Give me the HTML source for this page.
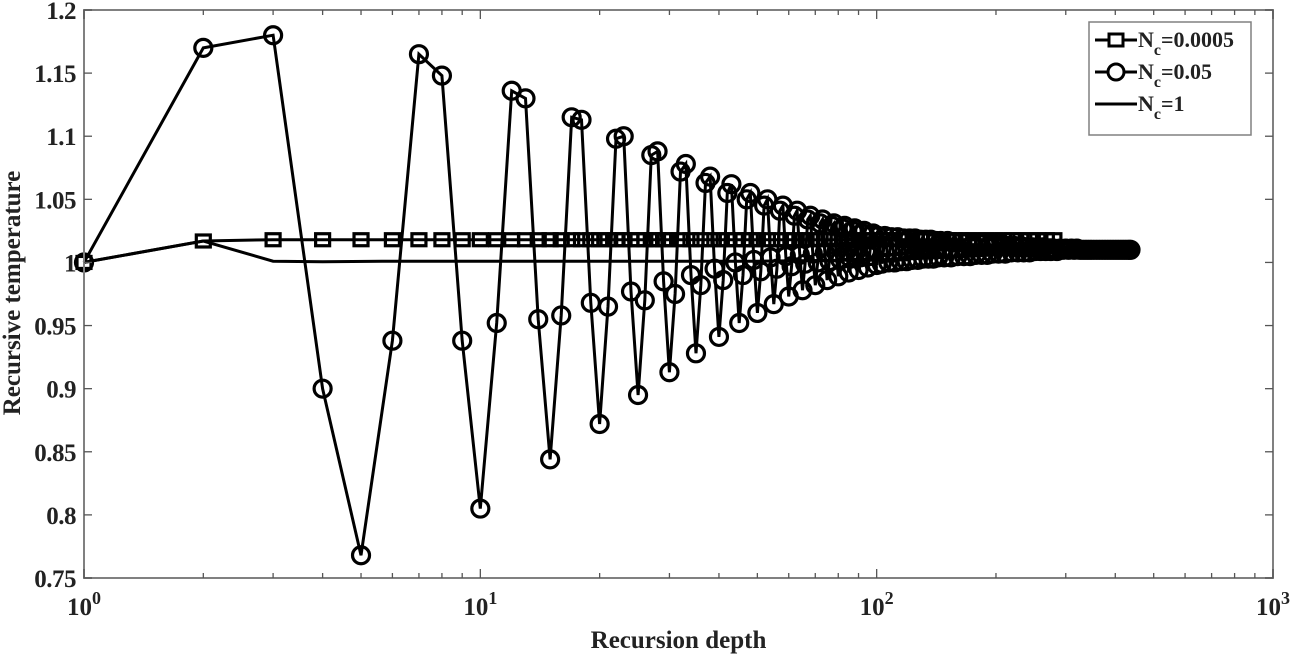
<!DOCTYPE html>
<html><head><meta charset="utf-8"><style>
html,body{margin:0;padding:0;background:#fff;}
svg text{font-family:"Liberation Serif",serif;font-weight:bold;fill:#222;}
</style></head><body>
<svg id="chart" width="1292" height="658" viewBox="0 0 1292 658" xmlns="http://www.w3.org/2000/svg">
<g id="grid"></g>
<g id="series"></g>
<g id="axes"></g>
<g id="legend"></g>
</svg>
<script>
// ---- data ----
const yTicks = [0.75,0.8,0.85,0.9,0.95,1,1.05,1.1,1.15,1.2];
const yTickLabels = ["0.75","0.8","0.85","0.9","0.95","1","1.05","1.1","1.15","1.2"];
const xDecades = [0,1,2,3];
// Nc = 0.05 (circles)
const circN = [];
const circV = [1.000,
1.170,1.180,0.900,0.768,0.938,1.165,1.148,0.938,0.805,0.952,
1.136,1.130,0.955,0.844,0.958,1.115,1.113,0.968,0.872,0.965,
1.098,1.100,0.977,0.895,0.970,1.085,1.088,0.985,0.913,0.975,
1.072,1.078,0.990,0.928,0.982,1.063,1.068,0.995,0.941,0.986,
1.055,1.062,1.000,0.952,0.990,1.050,1.055,1.002,0.960,0.993,
1.045,1.050,1.004,0.967,0.995,1.041,1.045,1.005,0.973,0.997,
1.037,1.041,1.006,0.978,0.999,1.034,1.037,1.007,0.982,1.000,
1.031,1.034,1.008,0.986,1.001,1.029,1.031,1.008,0.989,1.002,
1.027,1.029,1.009,0.992,1.003,1.025,1.027,1.009,0.994,1.004,
1.023,1.025,1.009,0.996,1.005,1.022,1.023,1.010,0.998];
for (let i=0;i<circV.length;i++) circN.push(i+1);
const circTailN = [101,103,105,107,109,111,113,115,117,119,121,123,125,127,129,131,133,135,137,139,141,143,145,148,151,154,157,160,163,166,169,172,175,178,181,184,187,190,193,196,199,203,207,211,215,219,223,227,231,235,239,243,247,251,255,259,263,267,271,275,280,285,290,295,300,305,310,315,320,325,330,335,340,345,350,356,362,368,374,380,386,392,398,404,410,416,422,428,434,437];
const circTailV = [1.021,0.999,1.021,1.000,1.020,1.000,1.020,1.001,1.019,1.001,1.019,1.002,1.019,1.002,1.018,1.003,1.018,1.003,1.018,1.003,1.017,1.004,1.017,1.004,1.017,1.004,1.016,1.005,1.016,1.005,1.016,1.005,1.015,1.006,1.015,1.006,1.015,1.006,1.014,1.007,1.014,1.007,1.014,1.007,1.013,1.008,1.013,1.008,1.013,1.008,1.012,1.008,1.012,1.009,1.012,1.009,1.012,1.009,1.011,1.009,1.011,1.009,1.011,1.010,1.011,1.010,1.011,1.010,1.011,1.010,1.010,1.010,1.010,1.010,1.010,1.010,1.010,1.010,1.010,1.010,1.010,1.010,1.010,1.010,1.010,1.010,1.010,1.010,1.010,1.010];
// Nc = 0.0005 (squares)
const sqN = [1,2,3,4,5,6,7,8,9,10,11,12,13,14,15,16,17,18,19,20,21,22,23,24,25,26,27,28,29,30,32,34,36,38,40,42,44,46,48,50,53,56,59,62,65,68,72,76,80,84,88,93,98,103,108,114,120,126,133,140,147,155,163,171,180,189,199,209,220,231,243,255,268,280];
const sqV = [1.000,1.017,1.018,1.018,1.018,1.018,1.018,1.018,1.018,1.018,1.018,1.018,1.018,1.018,1.018,1.018,1.018,1.018,1.018,1.018,1.018,1.018,1.018,1.018,1.018,1.018,1.018,1.018,1.018,1.018,1.018,1.018,1.018,1.018,1.018,1.018,1.018,1.018,1.018,1.018,1.018,1.018,1.018,1.018,1.018,1.018,1.018,1.018,1.018,1.018,1.018,1.018,1.018,1.018,1.018,1.018,1.018,1.018,1.018,1.018,1.018,1.018,1.018,1.018,1.018,1.018,1.018,1.018,1.018,1.018,1.018,1.018,1.018,1.018];
// Nc = 1 (line)
const lineN = [1,2,3,4,6,10,20,50,100,150,200,300,437];
const lineV = [1.000,1.017,1.001,1.0005,1.001,1.001,1.001,1.001,1.002,1.004,1.006,1.008,1.009];

// ---- scales ----
const X0=84, X1=1273, Y0=578, Y1=10;
const xs = n => X0 + (Math.log10(n)-0)/(3-0)*(X1-X0);
const ys = v => Y0 - (v-0.75)/(1.2-0.75)*(Y0-Y1);
const NS="http://www.w3.org/2000/svg";
function mk(tag, attrs, parent){const e=document.createElementNS(NS,tag);for(const k in attrs)e.setAttribute(k,attrs[k]);parent.appendChild(e);return e;}
const gS=document.getElementById('series'), gA=document.getElementById('axes'), gL=document.getElementById('legend');

// line Nc=1
let d=lineN.map((n,i)=>(i?'L':'M')+xs(n).toFixed(1)+','+ys(lineV[i]).toFixed(1)).join('');
let p=mk('path',{d:d,fill:'none',stroke:'#000','stroke-width':3},gS);



// squares Nc=0.0005
d=sqN.map((n,i)=>(i?'L':'M')+xs(n).toFixed(1)+','+ys(sqV[i]).toFixed(1)).join('');
p=mk('path',{d:d,fill:'none',stroke:'#000','stroke-width':3},gS);


sqN.forEach((n,i)=>{
  const r=mk('rect',{x:xs(n)-7,y:ys(sqV[i])-6,width:14,height:12,fill:'none',stroke:'#000','stroke-width':3.2},gS);
  
  
});

// circles Nc=0.05
const allN=circN.concat(circTailN), allV=circV.concat(circTailV);
d=allN.map((n,i)=>(i?'L':'M')+xs(n).toFixed(1)+','+ys(allV[i]).toFixed(1)).join('');
p=mk('path',{d:d,fill:'none',stroke:'#000','stroke-width':3},gS);


allN.forEach((n,i)=>{
  const c=mk('circle',{cx:xs(n),cy:ys(allV[i]),r:8.5,fill:'none',stroke:'#000','stroke-width':3.2},gS);
  
  
});

// axes box
const box=mk('rect',{x:X0,y:Y1,width:X1-X0,height:Y0-Y1,fill:'none',stroke:'#808080','stroke-width':2},gA);


// y ticks
yTicks.forEach((v,i)=>{
  const y=ys(v);
  mk('line',{x1:X0,y1:y,x2:X0+8,y2:y,stroke:'#555','stroke-width':1.3},gA);
  mk('line',{x1:X1,y1:y,x2:X1-8,y2:y,stroke:'#555','stroke-width':1.3},gA);
  const t=mk('text',{x:X0-8,y:y+9,'text-anchor':'end','font-size':25,'letter-spacing':'-0.5'},gA);
  t.textContent=yTickLabels[i];
  
  
});
// x ticks
xDecades.forEach(k=>{
  const x=xs(Math.pow(10,k));
  mk('line',{x1:x,y1:Y0,x2:x,y2:Y0-9,stroke:'#555','stroke-width':1.3},gA);
  mk('line',{x1:x,y1:Y1,x2:x,y2:Y1+9,stroke:'#555','stroke-width':1.3},gA);
  if(k<3){for(let m=2;m<10;m++){const xm=xs(m*Math.pow(10,k));
    mk('line',{x1:xm,y1:Y0,x2:xm,y2:Y0-5,stroke:'#555','stroke-width':1.3},gA);
    mk('line',{x1:xm,y1:Y1,x2:xm,y2:Y1+5,stroke:'#555','stroke-width':1.3},gA);}}
  const t=mk('text',{x:x-17,y:Y0+37,'font-size':25},gA);
  t.innerHTML='10<tspan dy="-11" font-size="18">'+k+'</tspan>';
  
  
});
let t=mk('text',{x:(X0+X1)/2,y:648,'text-anchor':'middle','font-size':25},gA);
t.textContent='Recursion depth';


t=mk('text',{x:0,y:0,'text-anchor':'middle','font-size':25,transform:'translate(20,293) rotate(-90)'},gA);
t.textContent='Recursive temperature';



// legend
const lb=mk('rect',{x:1089,y:22,width:162,height:113,fill:'#fff',stroke:'#808080','stroke-width':1.5},gL);


const legLabels=['=0.0005','=0.05','=1'];
const legY=[40,72,104];
legLabels.forEach((lab,i)=>{
  const y=legY[i];
  const g=mk('g',{},gL);
  
  
  mk('line',{x1:1095,y1:y,x2:1137,y2:y,stroke:'#000','stroke-width':3},g);
  if(i===0) mk('rect',{x:1109,y:y-6,width:14,height:12,fill:'#fff',stroke:'#000','stroke-width':3},g);
  if(i===1) mk('circle',{cx:1116,cy:y,r:8,fill:'#fff',stroke:'#000','stroke-width':3},g);
  const tx=mk('text',{x:1138,y:y+7,'font-size':22},g);
  tx.innerHTML='N<tspan dy="8" font-size="16">c</tspan><tspan dy="-8">'+lab+'</tspan>';
});
</script>
</body></html>
